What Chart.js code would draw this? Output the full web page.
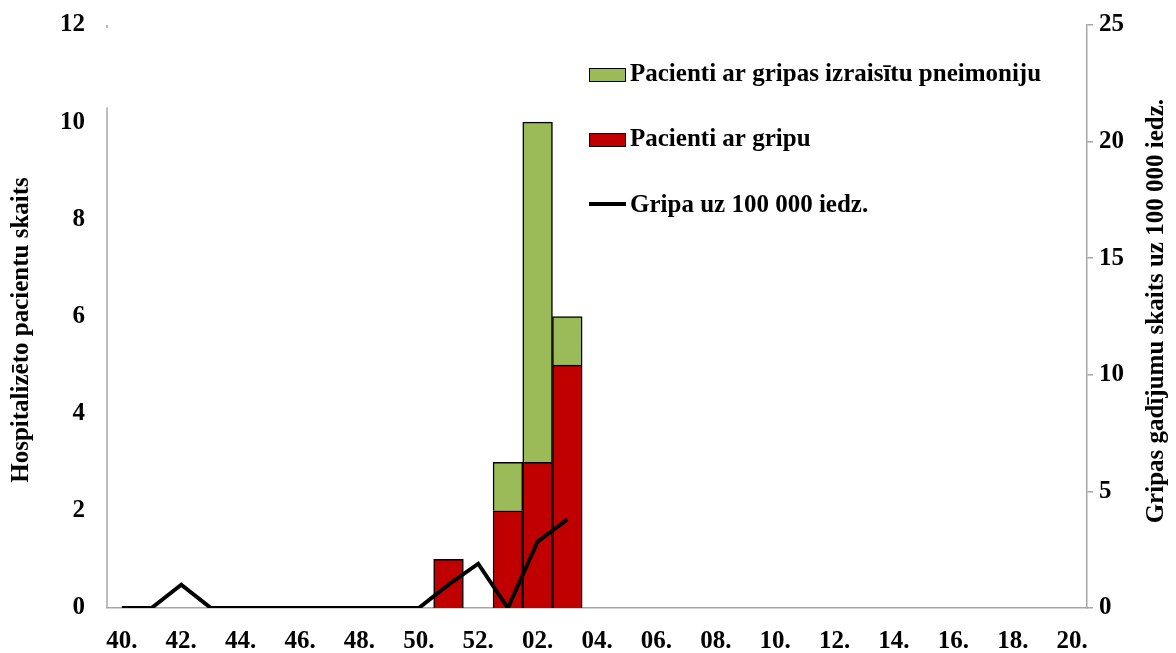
<!DOCTYPE html>
<html>
<head>
<meta charset="utf-8">
<script src="https://cdn.jsdelivr.net/npm/chart.js@4.4.0/dist/chart.umd.min.js"></script>
<style>
  html, body { margin: 0; padding: 0; background: #fff; }
  canvas { display: block; }
</style>
</head>
<body>
<canvas id="flu" width="1176" height="653"></canvas>
<script>
// weeks of the season
var weeks = ['40.', '41.', '42.', '43.', '44.', '45.', '46.', '47.', '48.', '49.', '50.', '51.', '52.',
             '01.', '02.', '03.', '04.', '05.', '06.', '07.', '08.', '09.', '10.', '11.', '12.',
             '13.', '14.', '15.', '16.', '17.', '18.', '19.', '20.'];

// Pacienti ar gripu
var fluPatients = [null, null, null, null, null, null, null, null, null, null, null, 1, null,
                   2, 3, 5, null, null, null, null, null, null, null, null, null,
                   null, null, null, null, null, null, null, null];

// Pacienti ar gripas izraisītu pneimoniju
var pneumoniaPatients = [null, null, null, null, null, null, null, null, null, null, null, null, null,
                         1, 7, 1, null, null, null, null, null, null, null, null, null,
                         null, null, null, null, null, null, null, null];

// Gripa uz 100 000 iedz.
var fluRate = [0, 0, 1.0, 0, 0, 0, 0, 0, 0, 0, 0, 1.0, 1.9,
               0, 2.85, 3.8, null, null, null, null, null, null, null, null, null,
               null, null, null, null, null, null, null, null];

var leftTicks = { min: 0, max: 12, step: 2 };
var rightTicks = { min: 0, max: 25, step: 5 };

var FONT = "'Liberation Serif', 'Times New Roman', serif";
var GREEN = '#9BBB59';
var RED = '#C00000';
var AXIS = '#A6A6A6';

// titles, legend and the cut left axis line
var extras = {
    id: 'extras',
    afterDraw: function (chart) {
        var c = chart.ctx;
        var area = chart.chartArea;
        var y = chart.scales.y;
        c.save();

        // left axis line (starts a bit above 10)
        c.strokeStyle = AXIS;
        c.lineWidth = 1.5;
        c.beginPath();
        c.moveTo(area.left, y.getPixelForValue(10.3));
        c.lineTo(area.left, area.bottom);
        c.stroke();
        c.beginPath();
        c.moveTo(area.left, area.top);
        c.lineTo(area.left, area.top + 3);
        c.stroke();

        c.fillStyle = '#000';
        c.font = 'bold 25px ' + FONT;
        c.textBaseline = 'middle';

        // axis titles
        c.save();
        c.translate(22, 330);
        c.rotate(-Math.PI / 2);
        c.textAlign = 'center';
        c.fillText('Hospitalizēto pacientu skaits', 0, 0);
        c.restore();

        c.save();
        c.translate(1157, 99);
        c.rotate(-Math.PI / 2);
        c.textAlign = 'right';
        c.fillText('Gripas gadījumu skaits uz 100 000 iedz.', 0, 0);
        c.restore();

        // legend
        var items = [
            { text: 'Pacienti ar gripas izraisītu pneimoniju', color: GREEN, y: 75 },
            { text: 'Pacienti ar gripu', color: RED, y: 140 },
            { text: 'Gripa uz 100 000 iedz.', color: null, y: 206 }
        ];
        items.forEach(function (it) {
            if (it.color) {
                c.fillStyle = it.color;
                c.fillRect(589, it.y - 7, 37, 14);
                c.strokeStyle = '#000';
                c.lineWidth = 1;
                c.strokeRect(589.5, it.y - 6.5, 36, 13);
            } else {
                c.strokeStyle = '#000';
                c.lineWidth = 4;
                c.beginPath();
                c.moveTo(589, it.y - 2);
                c.lineTo(626, it.y - 2);
                c.stroke();
            }
            c.fillStyle = '#000';
            c.textAlign = 'left';
            c.fillText(it.text, 630, it.y);
        });

        c.restore();
    }
};

var ctx = document.getElementById('flu');
var myChart = new Chart(ctx, {
    type: 'bar',
    data: {
        labels: weeks,
        datasets: [{
            label: 'Gripa uz 100 000 iedz.',
            type: 'line',
            data: fluRate,
            yAxisID: 'y2',
            borderColor: '#000',
            borderWidth: 4,
            pointRadius: 0,
            tension: 0,
            spanGaps: false,
            order: 0
        }, {
            label: 'Pacienti ar gripu',
            data: fluPatients,
            backgroundColor: RED,
            borderColor: '#000',
            borderWidth: 1.5,
            barPercentage: 1,
            categoryPercentage: 1,
            order: 1
        }, {
            label: 'Pacienti ar gripas izraisītu pneimoniju',
            data: pneumoniaPatients,
            backgroundColor: GREEN,
            borderColor: '#000',
            borderWidth: 1.5,
            barPercentage: 1,
            categoryPercentage: 1,
            order: 1
        }]
    },
    options: {
        responsive: false,
        animation: false,
        layout: { padding: { top: 25, left: 0, right: 0, bottom: 0 } },
        plugins: {
            legend: { display: false },
            tooltip: { enabled: false }
        },
        scales: {
            x: {
                stacked: true,
                grid: { display: false, drawTicks: false },
                border: { display: true, color: AXIS, width: 1.5 },
                ticks: {
                    autoSkip: false,
                    maxRotation: 0,
                    padding: 19,
                    color: '#000',
                    font: { family: FONT, size: 25, weight: 'bold' },
                    callback: function (val, i) { return i % 2 === 0 ? weeks[i] : ''; }
                },
                afterFit: function (s) { s.height = 45; }
            },
            y: {
                stacked: true,
                min: leftTicks.min,
                max: leftTicks.max,
                grid: { display: false, drawTicks: false },
                border: { display: false },
                ticks: {
                    stepSize: leftTicks.step,
                    padding: 22,
                    color: '#000',
                    font: { family: FONT, size: 25, weight: 'bold' }
                },
                afterFit: function (s) { s.width = 107; s.paddingTop = 0; s.paddingBottom = 0; }
            },
            y2: {
                position: 'right',
                min: rightTicks.min,
                max: rightTicks.max,
                grid: { drawOnChartArea: false, drawTicks: true, tickLength: 6, color: AXIS, lineWidth: 1.5 },
                border: { display: true, color: AXIS, width: 1.5 },
                ticks: {
                    stepSize: rightTicks.step,
                    padding: 6,
                    color: '#000',
                    font: { family: FONT, size: 25, weight: 'bold' }
                },
                afterFit: function (s) { s.width = 89; s.paddingTop = 0; s.paddingBottom = 0; }
            }
        }
    },
    plugins: [extras]
});
</script>
</body>
</html>
